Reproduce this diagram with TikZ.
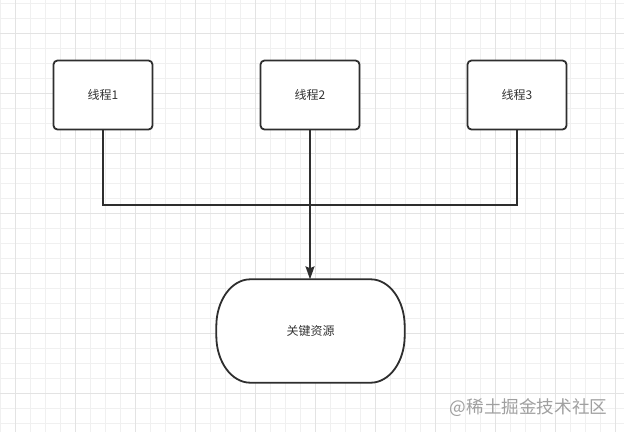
\documentclass[tikz,border=0pt]{standalone}
\usepackage{fontspec}
\newfontfamily\cjk{Noto Sans CJK SC}
\usetikzlibrary{arrows.meta}
\definecolor{minorgrid}{HTML}{F0F0F0}
\definecolor{majorgrid}{HTML}{E3E3E3}
\definecolor{ink}{HTML}{2E2E2E}
\definecolor{txt}{HTML}{333333}
\definecolor{wmark}{HTML}{A0A0A0}
\begin{document}
\begin{tikzpicture}[x=1pt,y=-1pt,
  minorline/.style={draw=minorgrid,line width=0.9pt},
  majorline/.style={draw=majorgrid,line width=0.9pt},
  procbox/.style={draw=ink,fill=white,line width=1.8pt,rounded corners=4pt,
    minimum width=99pt,minimum height=69pt,inner sep=0pt,text=txt,
    font=\cjk\fontsize{12}{14}\selectfont},
  conn/.style={draw=ink,line width=1.8pt},
  resshape/.style={draw=ink,fill=white,line width=1.8pt}]
\useasboundingbox (0,0) rectangle (624,432);
\fill[white] (0,0) rectangle (624,432);
\foreach \x in {0,15,...,615} \draw[minorline] (\x,0) -- (\x,432);
\foreach \y in {3,18,...,423} \draw[minorline] (0,\y) -- (624,\y);
\foreach \x in {15,75,...,615} \draw[majorline] (\x,0) -- (\x,432);
\foreach \y in {33,93,...,393} \draw[majorline] (0,\y) -- (624,\y);
\node[procbox] (t1) at (103,95) {线程1};
\node[procbox] (t2) at (310,95) {线程2};
\node[procbox] (t3) at (517,95) {线程3};
\node[minimum width=188pt,minimum height=103pt,inner sep=0pt] (res) at (310.5,331) {};
\draw[resshape] ([xshift=34pt]res.north west) -- ([xshift=-34pt]res.north east)
  arc[start angle=90,end angle=0,x radius=34pt,y radius=47pt]
  -- ([yshift=47pt]res.south east)
  arc[start angle=0,end angle=-90,x radius=34pt,y radius=47pt]
  -- ([xshift=34pt]res.south west)
  arc[start angle=270,end angle=180,x radius=34pt,y radius=47pt]
  -- ([yshift=-47pt]res.north west)
  arc[start angle=180,end angle=90,x radius=34pt,y radius=47pt] -- cycle;
\node[text=txt,font=\cjk\fontsize{12}{14}\selectfont] (reslabel) at (res.center) {关键资源};
\coordinate (j) at (310,205);
\draw[conn] (t1.south) |- (j) -| (t3.south);
\draw[conn,-{Stealth[length=13pt,width=9pt,inset=2pt]}] (t2.south) -- (t2.south |- res.north);
\node[text=wmark,font=\cjk\fontsize{17.6}{20}\selectfont,anchor=east,inner sep=0pt] (wm) at (607.5,408) {@稀土掘金技术社区};
\end{tikzpicture}
\end{document}
